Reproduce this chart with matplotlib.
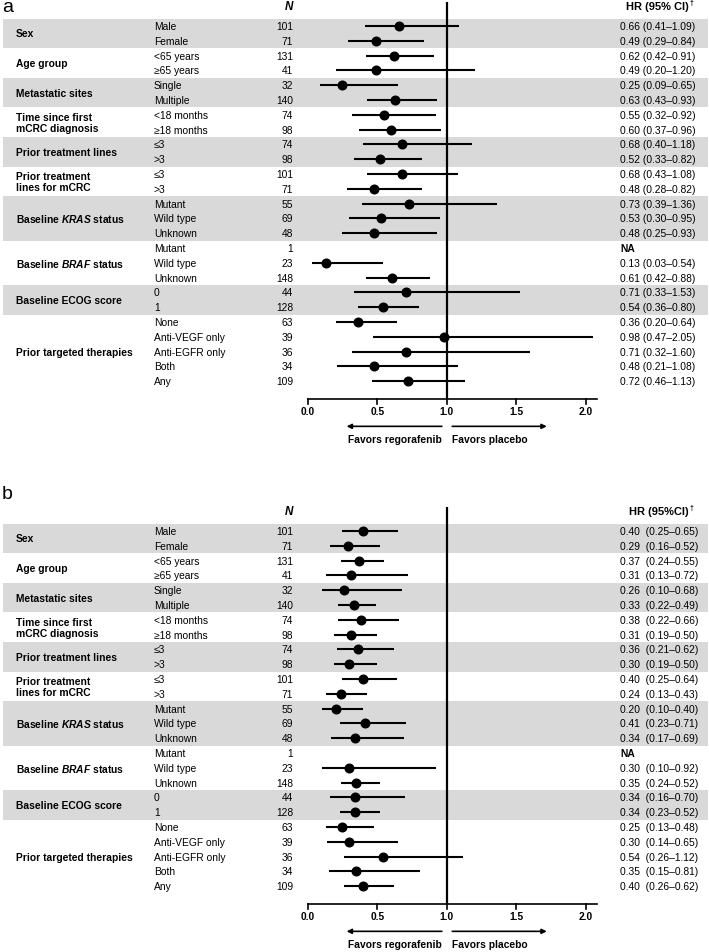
import numpy as np
import matplotlib
matplotlib.use("Agg")
import matplotlib.pyplot as plt
import matplotlib.transforms as mtransforms

plt.rcParams['font.family'] = ['Liberation Sans', 'DejaVu Sans']
plt.rcParams['mathtext.fontset'] = 'custom'
plt.rcParams['mathtext.rm'] = 'Liberation Sans:bold'
plt.rcParams['mathtext.bf'] = 'Liberation Sans:bold'
plt.rcParams['mathtext.bfit'] = 'Liberation Sans:italic:bold'
plt.rcParams['mathtext.it'] = 'Liberation Sans:italic'

# ---- data ----------------------------------------------------------------
groups = ["Sex", "Age group", "Metastatic sites", "Time since first\nmCRC diagnosis",
          "Prior treatment lines", "Prior treatment\nlines for mCRC",
          r"Baseline $\mathbfit{KRAS}$ status", r"Baseline $\mathbfit{BRAF}$ status",
          "Baseline ECOG score", "Prior targeted therapies"]
group_sizes = [2, 2, 2, 2, 2, 2, 3, 3, 2, 5]

subgroups = ["Male", "Female", "<65 years", "≥65 years", "Single", "Multiple",
             "<18 months", "≥18 months", "≤3", ">3", "≤3", ">3",
             "Mutant", "Wild type", "Unknown", "Mutant", "Wild type", "Unknown",
             "0", "1", "None", "Anti-VEGF only", "Anti-EGFR only", "Both", "Any"]
n_pat = [101, 71, 131, 41, 32, 140, 74, 98, 74, 98, 101, 71,
         55, 69, 48, 1, 23, 148, 44, 128, 63, 39, 36, 34, 109]

# panel a
hr_a = [0.66, 0.49, 0.62, 0.49, 0.25, 0.63, 0.55, 0.60, 0.68, 0.52, 0.68, 0.48,
        0.73, 0.53, 0.48, np.nan, 0.13, 0.61, 0.71, 0.54, 0.36, 0.98, 0.71, 0.48, 0.72]
lo_a = [0.41, 0.29, 0.42, 0.20, 0.09, 0.43, 0.32, 0.37, 0.40, 0.33, 0.43, 0.28,
        0.39, 0.30, 0.25, np.nan, 0.03, 0.42, 0.33, 0.36, 0.20, 0.47, 0.32, 0.21, 0.46]
hi_a = [1.09, 0.84, 0.91, 1.20, 0.65, 0.93, 0.92, 0.96, 1.18, 0.82, 1.08, 0.82,
        1.36, 0.95, 0.93, np.nan, 0.54, 0.88, 1.53, 0.80, 0.64, 2.05, 1.60, 1.08, 1.13]

# panel b
hr_b = [0.40, 0.29, 0.37, 0.31, 0.26, 0.33, 0.38, 0.31, 0.36, 0.30, 0.40, 0.24,
        0.20, 0.41, 0.34, np.nan, 0.30, 0.35, 0.34, 0.34, 0.25, 0.30, 0.54, 0.35, 0.40]
lo_b = [0.25, 0.16, 0.24, 0.13, 0.10, 0.22, 0.22, 0.19, 0.21, 0.19, 0.25, 0.13,
        0.10, 0.23, 0.17, np.nan, 0.10, 0.24, 0.16, 0.23, 0.13, 0.14, 0.26, 0.15, 0.26]
hi_b = [0.65, 0.52, 0.55, 0.72, 0.68, 0.49, 0.66, 0.50, 0.62, 0.50, 0.64, 0.43,
        0.40, 0.71, 0.69, np.nan, 0.92, 0.52, 0.70, 0.52, 0.48, 0.65, 1.12, 0.81, 0.62]

x_ticks = [0.0, 0.5, 1.0, 1.5, 2.0]

# ---- layout --------------------------------------------------------------
W, H = 709, 953
px_zero, px_unit = 307.7, 139.0   # pixel of HR=0, pixels per HR unit
row_px = 14.8
FS = 7.4
band_col = "#d9d9d9"

fig = plt.figure(figsize=(W / 100, H / 100), dpi=100)


def draw_panel(ax, label, hr, lo, hi, header, sep, first_row_px, ax_h_px):
    n_rows = len(subgroups)
    ax.set_xlim(-px_zero / px_unit, (W - px_zero) / px_unit)
    ax.set_ylim((ax_h_px - first_row_px) / row_px, -first_row_px / row_px)
    ax.axis("off")
    tr = mtransforms.blended_transform_factory(ax.transAxes, ax.transData)

    # shaded bands + group labels
    start = 0
    for gi, (g, size) in enumerate(zip(groups, group_sizes)):
        if gi % 2 == 0:
            ax.axhspan(start - 0.5, start + size - 0.5, xmin=0.004, xmax=0.998,
                       color=band_col, lw=0, zorder=0)
        ax.text(16 / W, start + (size - 1) / 2, g, transform=tr, ha="left",
                va="center", fontsize=FS, fontweight="bold", linespacing=1.15)
        start += size

    rows = np.arange(n_rows)
    for i in rows:
        ax.text(154 / W, i, subgroups[i], transform=tr, ha="left", va="center",
                fontsize=FS)
        ax.text(293 / W, i, str(n_pat[i]), transform=tr, ha="right",
                va="center", fontsize=FS)
        if np.isnan(hr[i]):
            txt = "NA"
            ax.text(620 / W, i, txt, transform=tr, ha="left", va="center",
                    fontsize=FS, fontweight="bold")
        else:
            txt = f"{hr[i]:.2f}{sep}({lo[i]:.2f}–{hi[i]:.2f})"
            ax.text(620 / W, i, txt, transform=tr, ha="left", va="center",
                    fontsize=FS)

    # CIs and points
    ax.hlines(rows, lo, hi, color="black", lw=1.5, zorder=3)
    ax.plot(hr, rows, "o", color="black", ms=6.2, zorder=4)

    # reference line and axis
    axis_row = 25.2
    ax.vlines(1.0, -1.62, axis_row, color="black", lw=1.6, zorder=2)
    ax.plot([0, 2.08], [axis_row, axis_row], color="black", lw=1.2)
    for t in x_ticks:
        ax.plot([t, t], [axis_row, axis_row + 0.33], color="black", lw=1.2)
        ax.text(t, axis_row + 0.8, f"{t:.1f}", ha="center", va="center",
                fontsize=FS, fontweight="bold")

    # favours arrows
    arr_row = 27.05
    ax.annotate("", xy=(0.28, arr_row), xytext=(0.965, arr_row),
                arrowprops=dict(arrowstyle="-|>", color="black", lw=1.2,
                                mutation_scale=7, shrinkA=0, shrinkB=0))
    ax.annotate("", xy=(1.72, arr_row), xytext=(1.04, arr_row),
                arrowprops=dict(arrowstyle="-|>", color="black", lw=1.2,
                                mutation_scale=7, shrinkA=0, shrinkB=0))
    ax.text(0.965, 27.9, "Favors regorafenib", ha="right", va="center",
            fontsize=FS, fontweight="bold")
    ax.text(1.04, 27.9, "Favors placebo", ha="left", va="center",
            fontsize=FS, fontweight="bold")

    # headers
    ax.text(293 / W, -1.35, "N", transform=tr, ha="right", va="center",
            fontsize=FS + 1, fontweight="bold", style="italic")
    ax.text(689 / W, -1.35, header, transform=tr, ha="right", va="center",
            fontsize=FS + 0.6, fontweight="bold")
    ax.text(690 / W, -1.6, "†", transform=tr, ha="left", va="center",
            fontsize=FS - 2.5, fontweight="bold")
    return tr


# panel a
ax_a = fig.add_axes([0, 1 - 476 / H, 1, 476 / H])
tr_a = draw_panel(ax_a, "a", hr_a, lo_a, hi_a, "HR (95% CI)", " ", 27, 476)
ax_a.text(2 / W, -1.3, "a", transform=tr_a, ha="left", va="center", fontsize=14)

# panel b
ax_b = fig.add_axes([0, 0, 1, 477 / H])
tr_b = draw_panel(ax_b, "b", hr_b, lo_b, hi_b, "HR (95%CI)", "  ", 56, 477)
ax_b.text(2 / W, -2.55, "b", transform=tr_b, ha="left", va="center", fontsize=14)

fig.savefig("out.png", dpi=100)
